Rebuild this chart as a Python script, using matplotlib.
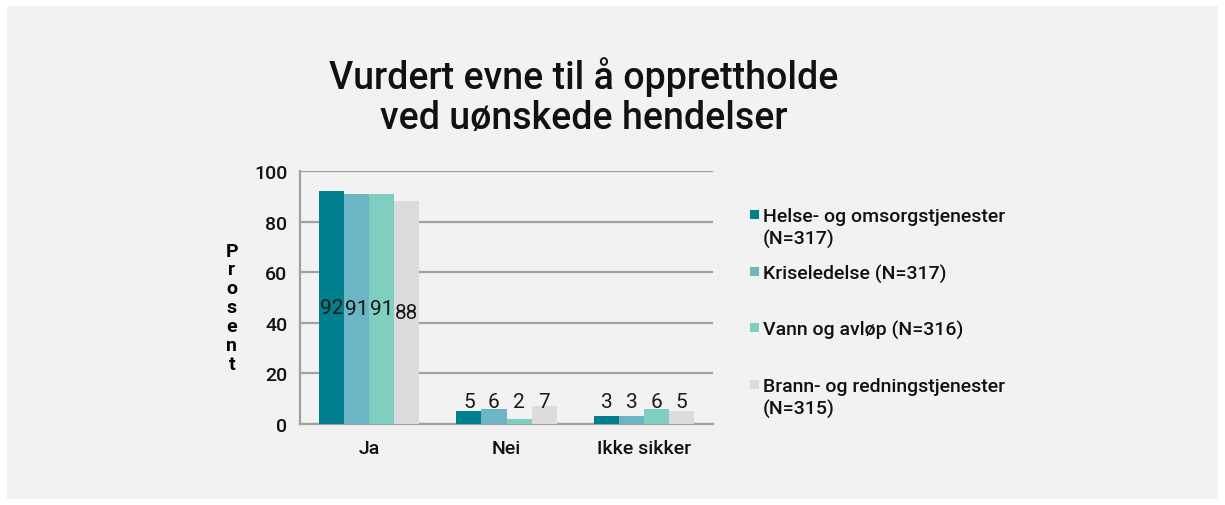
import matplotlib
matplotlib.use("Agg")
import matplotlib.pyplot as plt
from matplotlib.patches import Rectangle
import numpy as np

categories = ["Ja", "Nei", "Ikke sikker"]
series_names = ["Helse- og omsorgstjenester\n(N=317)", "Kriseledelse (N=317)",
                "Vann og avløp (N=316)", "Brann- og redningstjenester\n(N=315)"]
helse = [92, 5, 3]
krise = [91, 6, 3]
vann = [91, 2, 6]
brann = [88, 7, 5]
values = [helse, krise, vann, brann]
colors = ["#00808f", "#6bb5c4", "#7ecfc0", "#dcdcde"]
yticks = [0, 20, 40, 60, 80, 100]
title = "Vurdert evne til å opprettholde\nved uønskede hendelser"
ylabel = "Prosent"

plt.rcParams['font.family'] = ['Roboto', 'DejaVu Sans']

W, H = 1225, 506
fig = plt.figure(figsize=(W / 100, H / 100), dpi=100, facecolor="white")
fig.patches.append(Rectangle((7 / W, 6 / H), (W - 14) / W, (H - 13) / H,
                             transform=fig.transFigure, facecolor="#f2f2f2",
                             edgecolor="none", zorder=-10))

ax = fig.add_axes([300 / W, 1 - 425 / H, 413 / W, 253 / H])
ax.set_facecolor("none")

x = np.arange(len(categories))
w = 0.1816
for i, (vals, c) in enumerate(zip(values, colors)):
    xs = x + (i - 1.5) * w
    ax.bar(xs, vals, width=w, color=c, zorder=3)
    for xi, v in zip(xs, vals):
        y = v / 2 if v > 20 else 8.7
        ax.text(xi, y, str(v), ha="center", va="center", fontsize=15,
                fontweight="normal", color="#1a1a1a", zorder=4)

ax.set_xlim(-0.5, 2.5)
ax.set_ylim(0, 100)
ax.set_yticks(yticks)
ax.set_yticklabels([str(t) for t in yticks], fontsize=14, fontweight="medium")
ax.set_xticks(x)
ax.set_xticklabels(categories, fontsize=14, fontweight="medium")
ax.tick_params(axis="both", length=0, colors="#111111")
ax.tick_params(axis="y", pad=9)
ax.tick_params(axis="x", pad=11)
ax.grid(axis="y", color="#a0a0a0", linewidth=1.6, zorder=0)
for s in ["top", "right"]:
    ax.spines[s].set_visible(False)
for s in ["left", "bottom"]:
    ax.spines[s].set_color("#a0a0a0")
    ax.spines[s].set_linewidth(1.6)

ax.set_ylabel("\n".join(ylabel), rotation=0, fontsize=14, fontweight="bold",
              linespacing=1.06, va="center", ha="center")
ax.yaxis.set_label_coords(-0.165, 0.462)

fig.text(584 / W, 1 - 97 / H, title, ha="center", va="center", fontsize=27,
         fontweight="medium", linespacing=1.1, color="#111111")

# legend (manual, Excel-like spacing)
leg_tops = [211, 268, 324, 381]
for name, c, ty in zip(series_names, colors, leg_tops):
    fig.patches.append(Rectangle((750 / W, 1 - (ty + 9) / H), 9 / W, 9 / H,
                                 transform=fig.transFigure, facecolor=c,
                                 edgecolor="none"))
    fig.text(763 / W, 1 - (ty - 3) / H, name, ha="left", va="top", fontsize=14,
             fontweight="medium", linespacing=1.25, color="#111111")

fig.savefig("out.png", dpi=100, facecolor="white")
